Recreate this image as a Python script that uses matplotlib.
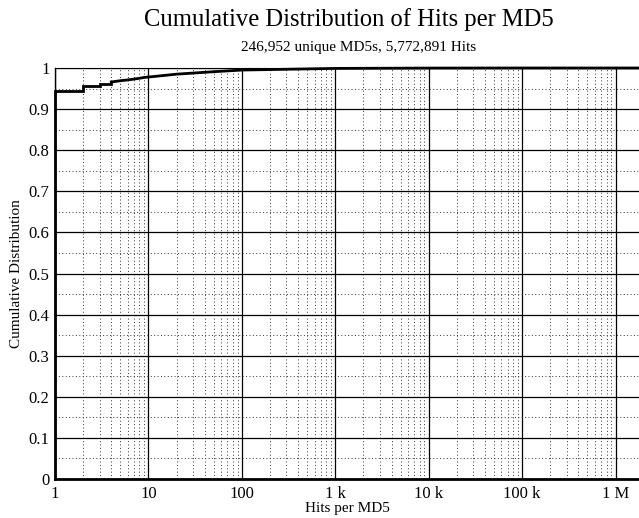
import matplotlib
matplotlib.use("Agg")
import matplotlib.pyplot as plt
from matplotlib.ticker import FixedLocator, FixedFormatter

# step part (small integer hit counts)
step_hits = [1, 1, 2, 3, 4]
step_cdf = [0.0, 0.944, 0.955, 0.962, 0.966]
# tail part
tail_hits = [4, 5, 6, 7, 8, 9, 10, 20, 50, 100, 1000, 10000, 100000, 2000000]
tail_cdf = [0.966, 0.969, 0.971, 0.973, 0.975, 0.977, 0.978, 0.985, 0.991, 0.995,
            0.999, 0.9998, 1.0, 1.0]

xtick_vals = [1, 10, 100, 1000, 10000, 100000, 1000000]
xtick_labels = ["1", "10", "100", "1 k", "10 k", "100 k", "1 M"]
ytick_vals = [0, 0.1, 0.2, 0.3, 0.4, 0.5, 0.6, 0.7, 0.8, 0.9, 1]
ytick_labels = ["0", "0.1", "0.2", "0.3", "0.4", "0.5", "0.6", "0.7", "0.8", "0.9", "1"]

plt.rcParams['font.family'] = ['Liberation Serif', 'DejaVu Serif']

W, H = 639, 518
fig = plt.figure(figsize=(W / 100, H / 100), dpi=100)
ax_left, ax_top, ax_bottom = 55, 68, 479
ax = fig.add_axes([ax_left / W, 1 - ax_bottom / H, 1 - ax_left / W, (ax_bottom - ax_top) / H])

ax.plot(step_hits, step_cdf, color='black', lw=2.0, drawstyle='steps-post',
        zorder=5, clip_on=False, solid_joinstyle='miter')
ax.plot(tail_hits, tail_cdf, color='black', lw=2.0, zorder=5, clip_on=False)
ax.set_xscale('log')
ax.set_xlim(1, 1.78e6)
ax.set_ylim(0, 1)

ax.xaxis.set_major_locator(FixedLocator(xtick_vals))
ax.xaxis.set_major_formatter(FixedFormatter(xtick_labels))
minor_x = [m * 10**e for e in range(0, 7) for m in range(2, 10)]
ax.xaxis.set_minor_locator(FixedLocator(minor_x))
ax.yaxis.set_major_locator(FixedLocator(ytick_vals))
ax.yaxis.set_major_formatter(FixedFormatter(ytick_labels))
ax.yaxis.set_minor_locator(FixedLocator([0.05 + 0.1 * i for i in range(10)]))

ax.grid(which='major', color='black', lw=0.9, ls='-')
ax.grid(which='minor', color='#333333', lw=0.7, ls=(0, (1, 2.5)))
ax.set_axisbelow(True)

ax.tick_params(which='both', length=0, labelsize=12, pad=4)
ax.tick_params(axis='x', pad=5)
ax.spines['right'].set_visible(False)
ax.spines['top'].set_linewidth(0.8)
ax.spines['left'].set_linewidth(1.0)
ax.spines['bottom'].set_linewidth(2.0)

ax.set_xlabel("Hits per MD5", fontsize=11, labelpad=0)
ax.set_ylabel("Cumulative Distribution", fontsize=11, labelpad=4)

fig.text(349 / W, 1 - 20 / H, "Cumulative Distribution of Hits per MD5",
         ha='center', va='center', fontsize=17.7)
fig.text(359 / W, 1 - 47 / H, "246,952 unique MD5s, 5,772,891 Hits",
         ha='center', va='center', fontsize=11)

fig.savefig("out.png", dpi=100)
